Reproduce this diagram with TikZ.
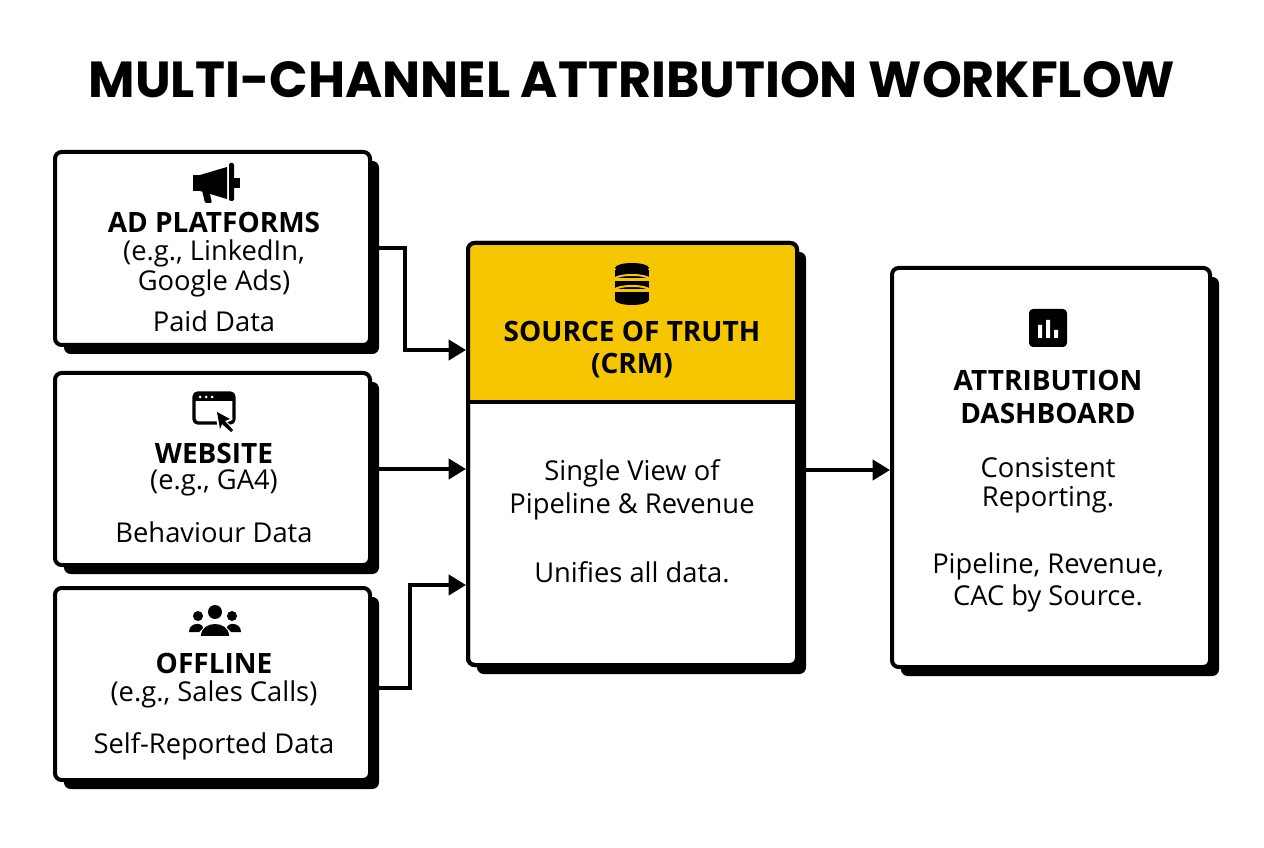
\documentclass[tikz,border=0pt]{standalone}
\usepackage{fontspec}
\usetikzlibrary{arrows.meta}
\setmainfont{Open Sans}
\newfontfamily\titlefont{Poppins}
\definecolor{hdr}{RGB}{246,198,0}
\begin{document}
\begin{tikzpicture}[x=0.75pt,y=-0.75pt,
  box/.style={draw=black,line width=3pt,rounded corners=5pt,fill=white},
  shadow/.style={fill=black,rounded corners=5pt},
  head/.style={font=\fontsize{21}{24}\selectfont\bfseries,anchor=center},
  txt/.style={font=\fontsize{20.5}{24}\selectfont,anchor=center},
  arr/.style={line width=3pt,-{Triangle[length=13pt,width=15pt]}},
]
\useasboundingbox (0,0) rectangle (1264,848);
\fill[white] (0,0) rectangle (1264,848);
\node[font=\titlefont\fontsize{38}{44}\selectfont\bfseries] (title) at (632,80) {MULTI-CHANNEL ATTRIBUTION WORKFLOW};
% shadows
\foreach \a/\b/\c/\d in {55/152/370/345, 55/373/370/565, 55/588/370/780, 468/243/797/665, 892/268/1210/667}
  \fill[shadow] (\a+9,\b+9) rectangle (\c+9,\d+9);
% boxes
\node[box,minimum width=315*0.75pt,minimum height=193*0.75pt] (ad) at (212.5,248.5) {};
\node[box,minimum width=315*0.75pt,minimum height=192*0.75pt] (web) at (212.5,469) {};
\node[box,minimum width=315*0.75pt,minimum height=192*0.75pt] (off) at (212.5,684) {};
\node[box,minimum width=329*0.75pt,minimum height=422*0.75pt] (crm) at (632.5,454) {};
\fill[hdr, rounded corners=5pt] (468,243) rectangle (797,402);
\fill[hdr] (468,300) rectangle (797,402);
\draw[line width=3pt,rounded corners=5pt] (468,243) rectangle (797,665);
\draw[line width=3pt] (468,402) -- (797,402);
\node[box,minimum width=318*0.75pt,minimum height=399*0.75pt] (dash) at (1051,467.5) {};
% icons
\fill (193,175) rectangle (200,191);
\fill (200,175) -- (227,167) -- (227,199) -- (200,191) -- cycle;
\fill[rounded corners=1pt] (202,190) -- (209,190) -- (212,203) -- (205,203) -- cycle;
\fill[rounded corners=1pt] (229,163) rectangle (234,201);
\fill (234,178) rectangle (240,188);
\draw[line width=2.5pt,rounded corners=3pt] (194,393) rectangle (234,423);
\fill (194,393) rectangle (234,401);
\foreach \x in {200,206,212} \fill[white] (\x,397) circle (1.5);
\fill[white] (214,409) -- (233,419) -- (227,422) -- (236,431) -- (231,436) -- (222,427) -- (219,433) -- cycle;
\fill (217,412) -- (230,419) -- (225,421) -- (233,430) -- (231,432) -- (222,424) -- (220,429) -- cycle;
\fill (215,612) circle (7); \fill (198,616) circle (5); \fill (232,616) circle (5);
\fill (201,636) .. controls (201,620) and (229,620) .. (229,636) -- cycle;
\fill (189,632) .. controls (189,622) and (203,622) .. (203,628) -- (199,632) -- cycle;
\fill (241,632) .. controls (241,622) and (227,622) .. (227,628) -- (231,632) -- cycle;
\foreach \y in {270,281,292} \fill (615,\y) rectangle (649,\y+8);
\fill (632,268) ellipse (17 and 5);
\fill (632,300) ellipse (17 and 5);
\draw[hdr,line width=1.5pt] (615,279) arc (180:360:17 and 4) (615,290) arc (180:360:17 and 4);
\fill[rounded corners=3pt] (1029,309) rectangle (1067,347);
\fill[white] (1038,325) rectangle (1042,338) (1046,320) rectangle (1050,338) (1054,330) rectangle (1058,338);
% text
\node[head] (adh) at (214,222) {AD PLATFORMS};
\node[txt] at (214,253) {(e.g., LinkedIn,};
\node[txt] at (214,283) {Google Ads)};
\node[txt] at (214,321) {Paid Data};
\node[head] at (214,453) {WEBSITE};
\node[txt] at (214,483) {(e.g., GA4)};
\node[txt] at (214,532) {Behaviour Data};
\node[head] at (214,663) {OFFLINE};
\node[txt] at (214,694) {(e.g., Sales Calls)};
\node[txt] at (214,746) {Self-Reported Data};
\node[head] at (632,331) {SOURCE OF TRUTH};
\node[head] at (632,366) {(CRM)};
\node[txt] at (632,473) {Single View of};
\node[txt] at (632,506) {Pipeline \& Revenue};
\node[txt] at (632,572) {Unifies all data.};
\node[head] at (1048,380) {ATTRIBUTION};
\node[head] at (1048,413) {DASHBOARD};
\node[txt] at (1048,468) {Consistent};
\node[txt] at (1048,500) {Reporting.};
\node[txt] at (1048,566) {Pipeline, Revenue,};
\node[txt] at (1048,598) {CAC by Source.};
% arrows
\coordinate (a1) at (405,248); \coordinate (a2) at (405,350);
\draw[arr] (ad.east |- a1) -- (a1) -- (a2) -- (crm.west |- a2);
\draw[arr] (web.east) -- (crm.west |- web.east);
\coordinate (o1) at (410,688); \coordinate (o2) at (410,585);
\draw[arr] (off.east |- o1) -- (o1) -- (o2) -- (crm.west |- o2);
\draw[arr] (crm.east |- 0,470) -- (dash.west |- 0,470);
\end{tikzpicture}
\end{document}
